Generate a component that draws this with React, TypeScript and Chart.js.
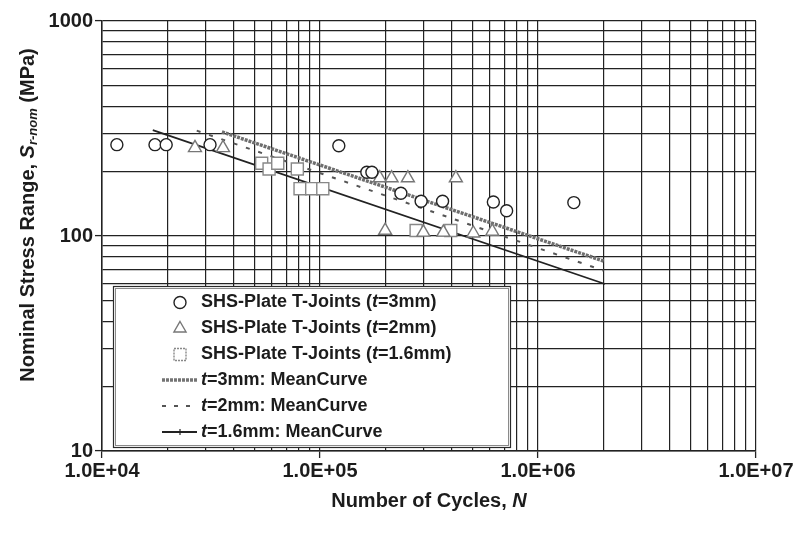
import React, { useEffect, useRef } from 'react';
import { Chart, registerables } from 'chart.js';

Chart.register(...registerables);

// ---------- data ----------
const xTickLabels = ['1.0E+04', '1.0E+05', '1.0E+06', '1.0E+07'];
const yTickLabels = ['10', '100', '1000'];

// SHS-Plate T-Joints (t=3mm)
const t3N = [1.17e4, 1.75e4, 1.97e4, 3.13e4, 1.22e5, 1.64e5, 1.73e5, 2.35e5, 2.91e5, 3.65e5, 6.24e5, 7.18e5, 1.46e6];
const t3S = [266, 266, 266, 266, 263, 198, 198, 158, 145, 145, 144, 131, 143];

// SHS-Plate T-Joints (t=2mm)
const t2N = [2.67e4, 3.59e4, 1.88e5, 2.13e5, 2.53e5, 4.2e5, 1.99e5, 2.98e5, 3.68e5, 5.05e5, 6.17e5];
const t2S = [257, 257, 186, 186, 186, 186, 106, 104, 104, 103, 105];

// SHS-Plate T-Joints (t=1.6mm)
const t16N = [5.4e4, 5.84e4, 6.4e4, 7.87e4, 8.1e4, 9.16e4, 1.03e5, 2.76e5, 3.98e5];
const t16S = [218, 205, 218, 205, 166, 166, 166, 106, 106];

// Mean curves (end points)
const mean3N = [3.55e4, 2.0e6];
const mean3S = [305, 76.5];
const mean2N = [2.72e4, 2.0e6];
const mean2S = [309, 69];
const mean16N = [1.71e4, 2.03e6];
const mean16S = [311, 59.8];

// ---------- helpers ----------
const FONT = '"Liberation Sans", Arial, Helvetica, sans-serif';
const INK = '#1c1c1c';

const pts = (xs: number[], ys: number[]) => xs.map((x, i) => ({ x, y: ys[i] }));

const logTicks = (min: number, max: number) => {
  const out: { value: number; major: boolean }[] = [];
  for (let e = Math.round(Math.log10(min)); e < Math.round(Math.log10(max)); e++) {
    for (let m = 1; m <= 9; m++) out.push({ value: m * Math.pow(10, e), major: m === 1 });
  }
  out.push({ value: max, major: true });
  return out;
};

const isPow10 = (v: number) => Math.abs(Math.log10(v) - Math.round(Math.log10(v))) < 1e-9;

type Part = { text: string; font: string; dy?: number };
const drawRich = (ctx: CanvasRenderingContext2D, parts: Part[], x: number, y: number, align: 'left' | 'center') => {
  let total = 0;
  for (const p of parts) {
    ctx.font = p.font;
    total += ctx.measureText(p.text).width;
  }
  let cx = align === 'center' ? x - total / 2 : x;
  ctx.textAlign = 'left';
  for (const p of parts) {
    ctx.font = p.font;
    ctx.fillText(p.text, cx, y + (p.dy || 0));
    cx += ctx.measureText(p.text).width;
  }
};

const overlayPlugin = {
  id: 'overlay',
  beforeDraw(chart: any) {
    const ctx = chart.ctx;
    ctx.save();
    ctx.fillStyle = '#ffffff';
    ctx.fillRect(0, 0, chart.width, chart.height);
    ctx.restore();
  },
  afterDraw(chart: any) {
    const ctx: CanvasRenderingContext2D = chart.ctx;
    const ca = chart.chartArea;
    ctx.save();
    // ---- legend box ----
    const lx = 113, ly = 286, lw = 397, lh = 161;
    ctx.fillStyle = '#ffffff';
    ctx.fillRect(lx, ly, lw, lh);
    ctx.strokeStyle = '#2a2a2a';
    ctx.lineWidth = 1.2;
    ctx.strokeRect(lx + 0.5, ly + 0.5, lw, lh);
    ctx.strokeStyle = '#8a8a8a';
    ctx.lineWidth = 1;
    ctx.strokeRect(lx + 2.5, ly + 2.5, lw - 4, lh - 4);

    const rows = [302.5, 328.5, 354.5, 380, 406, 432];
    const mx = 180;
    const tx = 201;
    const fb = `bold 18px ${FONT}`;
    const fi = `italic bold 18px ${FONT}`;
    ctx.fillStyle = INK;
    ctx.textBaseline = 'middle';

    // markers
    ctx.strokeStyle = '#222';
    ctx.lineWidth = 1.4;
    ctx.beginPath();
    ctx.arc(mx, rows[0], 6, 0, Math.PI * 2);
    ctx.stroke();
    ctx.strokeStyle = '#777';
    ctx.beginPath();
    const r = 7;
    ctx.moveTo(mx, rows[1] - r);
    ctx.lineTo(mx + r * Math.sin((2 * Math.PI) / 3), rows[1] + r * 0.5);
    ctx.lineTo(mx - r * Math.sin((2 * Math.PI) / 3), rows[1] + r * 0.5);
    ctx.closePath();
    ctx.stroke();
    ctx.strokeStyle = '#888';
    ctx.setLineDash([2, 1]);
    ctx.strokeRect(mx - 6, rows[2] - 6, 12, 12);
    ctx.setLineDash([]);

    // line swatches
    ctx.strokeStyle = '#747474';
    ctx.lineWidth = 3.5;
    ctx.setLineDash([3, 1]);
    ctx.beginPath();
    ctx.moveTo(162, rows[3]);
    ctx.lineTo(197, rows[3]);
    ctx.stroke();
    ctx.strokeStyle = '#555';
    ctx.lineWidth = 2;
    ctx.setLineDash([4, 8]);
    ctx.beginPath();
    ctx.moveTo(162, rows[4]);
    ctx.lineTo(198, rows[4]);
    ctx.stroke();
    ctx.setLineDash([]);
    ctx.strokeStyle = '#222';
    ctx.lineWidth = 1.8;
    ctx.beginPath();
    ctx.moveTo(162, rows[5]);
    ctx.lineTo(197, rows[5]);
    ctx.stroke();
    ctx.lineWidth = 1.2;
    ctx.beginPath();
    ctx.moveTo(180, rows[5] - 3);
    ctx.lineTo(180, rows[5] + 3);
    ctx.stroke();

    ctx.fillStyle = INK;
    drawRich(ctx, [{ text: 'SHS-Plate T-Joints (', font: fb }, { text: 't', font: fi }, { text: '=3mm)', font: fb }], tx, rows[0], 'left');
    drawRich(ctx, [{ text: 'SHS-Plate T-Joints (', font: fb }, { text: 't', font: fi }, { text: '=2mm)', font: fb }], tx, rows[1], 'left');
    drawRich(ctx, [{ text: 'SHS-Plate T-Joints (', font: fb }, { text: 't', font: fi }, { text: '=1.6mm)', font: fb }], tx, rows[2], 'left');
    drawRich(ctx, [{ text: 't', font: fi }, { text: '=3mm: MeanCurve', font: fb }], tx, rows[3], 'left');
    drawRich(ctx, [{ text: 't', font: fi }, { text: '=2mm: MeanCurve', font: fb }], tx, rows[4], 'left');
    drawRich(ctx, [{ text: 't', font: fi }, { text: '=1.6mm: MeanCurve', font: fb }], tx, rows[5], 'left');

    // ---- x axis title ----
    const tf = `bold 20px ${FONT}`;
    const tfi = `italic bold 20px ${FONT}`;
    drawRich(ctx, [{ text: 'Number of Cycles, ', font: tf }, { text: 'N', font: tfi }], (ca.left + ca.right) / 2, 501, 'center');

    // ---- y axis title ----
    ctx.translate(28, 215);
    ctx.rotate(-Math.PI / 2);
    drawRich(
      ctx,
      [
        { text: 'Nominal Stress Range, ', font: tf },
        { text: 'S', font: tfi },
        { text: 'r-nom', font: `italic bold 13px ${FONT}`, dy: 5 },
        { text: ' (MPa)', font: tf },
      ],
      0,
      0,
      'center'
    );
    ctx.restore();
  },
};

const gridCommon = {
  color: '#222',
  lineWidth: 1.2,
  drawTicks: true,
  tickLength: 7,
  tickWidth: 1.3,
  tickColor: (c: any) => (c.tick && isPow10(c.tick.value) ? '#222' : 'rgba(0,0,0,0)'),
};

export default function App() {
  const ref = useRef<HTMLCanvasElement>(null);
  useEffect(() => {
    document.body.style.margin = '0';
    const chart = new Chart(ref.current as HTMLCanvasElement, {
      type: 'scatter',
      data: {
        datasets: [
          {
            label: 'SHS-Plate T-Joints (t=3mm)',
            data: pts(t3N, t3S),
            pointStyle: 'circle',
            pointRadius: 6,
            pointBorderWidth: 1.4,
            pointBorderColor: '#222',
            pointBackgroundColor: '#fff',
            order: 0,
          },
          {
            label: 'SHS-Plate T-Joints (t=2mm)',
            data: pts(t2N, t2S),
            pointStyle: 'triangle',
            pointRadius: 7.5,
            pointBorderWidth: 1.4,
            pointBorderColor: '#777',
            pointBackgroundColor: '#fff',
            order: 1,
          },
          {
            label: 'SHS-Plate T-Joints (t=1.6mm)',
            data: pts(t16N, t16S),
            pointStyle: 'rect',
            pointRadius: 8.5,
            pointBorderWidth: 1.4,
            pointBorderColor: '#888',
            pointBackgroundColor: '#fff',
            order: 2,
          },
          {
            label: 't=3mm: MeanCurve',
            data: pts(mean3N, mean3S),
            showLine: true,
            borderColor: '#6e6e6e',
            borderWidth: 3.5,
            borderDash: [3, 1],
            pointRadius: 0,
            order: 3,
          },
          {
            label: 't=2mm: MeanCurve',
            data: pts(mean2N, mean2S),
            showLine: true,
            borderColor: '#555',
            borderWidth: 2,
            borderDash: [4, 9],
            pointRadius: 0,
            order: 4,
          },
          {
            label: 't=1.6mm: MeanCurve',
            data: pts(mean16N, mean16S),
            showLine: true,
            borderColor: '#222',
            borderWidth: 1.8,
            pointRadius: 0,
            order: 5,
          },
        ],
      },
      options: {
        responsive: false,
        animation: false,
        devicePixelRatio: 1,
        layout: { padding: { left: 0, top: 21, right: 37, bottom: 0 } },
        plugins: {
          legend: { display: false },
          tooltip: { enabled: false },
        },
        scales: {
          x: {
            type: 'logarithmic',
            min: 1e4,
            max: 1e7,
            afterBuildTicks: (s: any) => {
              s.ticks = logTicks(1e4, 1e7);
            },
            afterFit: (s: any) => {
              s.height = 82;
              s.paddingLeft = 0;
              s.paddingRight = 0;
            },
            grid: gridCommon,
            border: { display: true, color: '#222', width: 1.5 },
            ticks: {
              autoSkip: false,
              maxRotation: 0,
              minRotation: 0,
              padding: 1,
              color: INK,
              font: { family: FONT, size: 20, weight: 'bold' },
              callback: (v: any) => {
                const val = Number(v);
                if (!isPow10(val)) return '';
                return xTickLabels[Math.round(Math.log10(val)) - 4];
              },
            },
          },
          y: {
            type: 'logarithmic',
            min: 10,
            max: 1000,
            afterBuildTicks: (s: any) => {
              s.ticks = logTicks(10, 1000);
            },
            afterFit: (s: any) => {
              s.width = 102;
              s.paddingTop = 0;
              s.paddingBottom = 0;
            },
            grid: gridCommon,
            border: { display: true, color: '#222', width: 1.5 },
            ticks: {
              autoSkip: false,
              padding: 2,
              color: INK,
              font: { family: FONT, size: 20, weight: 'bold' },
              callback: (v: any) => {
                const val = Number(v);
                if (!isPow10(val)) return '';
                return yTickLabels[Math.round(Math.log10(val)) - 1];
              },
            },
          },
        },
      },
      plugins: [overlayPlugin],
    } as any);
    return () => chart.destroy();
  }, []);
  return (
    <div style={{ width: 793, height: 533, position: 'relative' }}>
      <canvas ref={ref} width={793} height={533} style={{ display: 'block' }} />
    </div>
  );
}
